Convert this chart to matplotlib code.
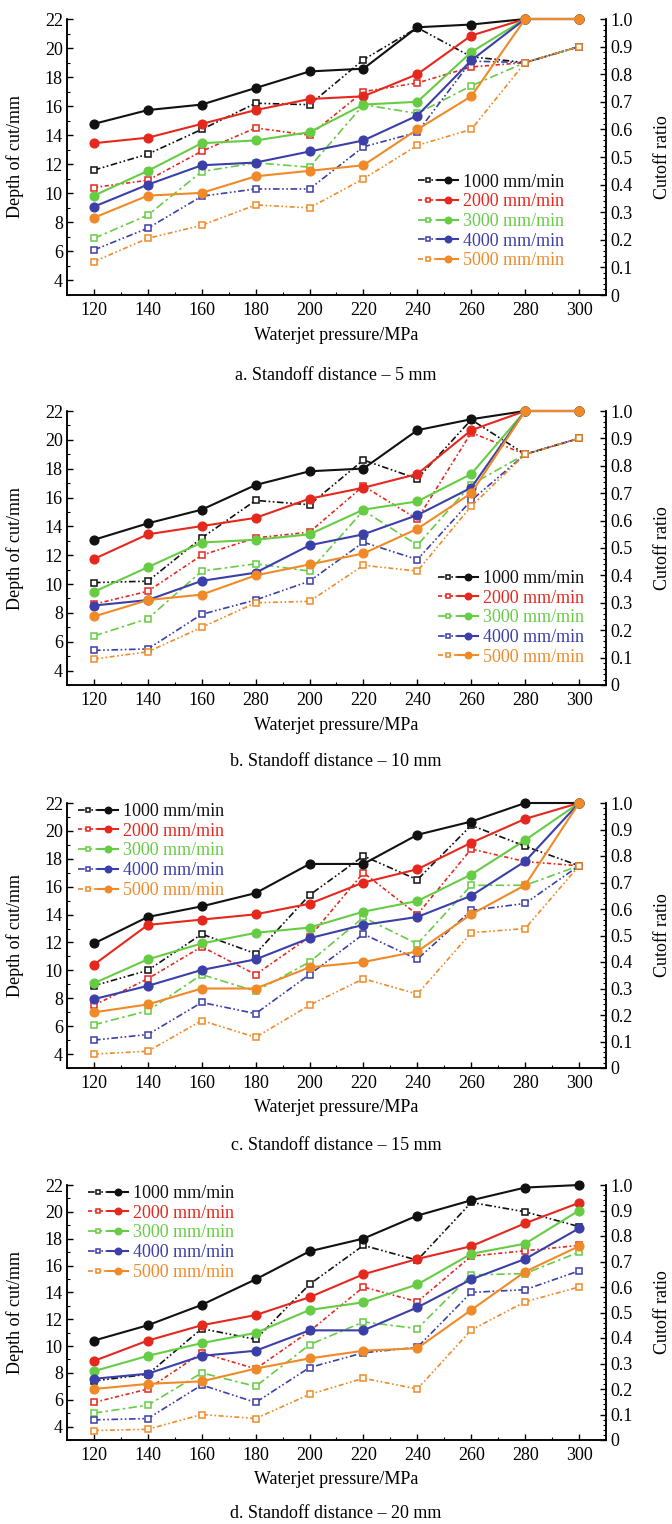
import numpy as np
import matplotlib
matplotlib.use("Agg")
import matplotlib.pyplot as plt
from matplotlib.ticker import MultipleLocator, FixedLocator, FuncFormatter
from matplotlib.legend_handler import HandlerTuple

plt.rcParams['font.family'] = ['Liberation Serif', 'DejaVu Serif']

# Datos
pressure = [120, 140, 160, 180, 200, 220, 240, 260, 280, 300]
feed_labels = ['1000 mm/min', '2000 mm/min', '3000 mm/min', '4000 mm/min', '5000 mm/min']
xtick_labels = ['120', '140', '160', '180', '200', '220', '240', '260', '280', '300']
xtick_labels_b = ['120', '140', '160', '280', '200', '220', '240', '260', '280', '300']
captions = ['a. Standoff distance – 5 mm', 'b. Standoff distance – 10 mm',
            'c. Standoff distance – 15 mm', 'd. Standoff distance – 20 mm']

# cutoff ratio (solid, filled circles, right axis)
ratio_a = [[0.62, 0.67, 0.69, 0.75, 0.81, 0.82, 0.97, 0.98, 1.0, 1.0],
           [0.55, 0.57, 0.62, 0.67, 0.71, 0.72, 0.80, 0.94, 1.0, 1.0],
           [0.36, 0.45, 0.55, 0.56, 0.59, 0.69, 0.70, 0.88, 1.0, 1.0],
           [0.32, 0.40, 0.47, 0.48, 0.52, 0.56, 0.65, 0.85, 1.0, 1.0],
           [0.28, 0.36, 0.37, 0.43, 0.45, 0.47, 0.60, 0.72, 1.0, 1.0]]
ratio_b = [[0.53, 0.59, 0.64, 0.73, 0.78, 0.79, 0.93, 0.97, 1.0, 1.0],
           [0.46, 0.55, 0.58, 0.61, 0.68, 0.72, 0.77, 0.93, 1.0, 1.0],
           [0.34, 0.43, 0.52, 0.53, 0.55, 0.64, 0.67, 0.77, 1.0, 1.0],
           [0.29, 0.31, 0.38, 0.41, 0.51, 0.55, 0.62, 0.72, 1.0, 1.0],
           [0.25, 0.31, 0.33, 0.40, 0.44, 0.48, 0.57, 0.70, 1.0, 1.0]]
ratio_c = [[0.47, 0.57, 0.61, 0.66, 0.77, 0.77, 0.88, 0.93, 1.0, 1.0],
           [0.39, 0.54, 0.56, 0.58, 0.62, 0.70, 0.75, 0.85, 0.94, 1.0],
           [0.32, 0.41, 0.47, 0.51, 0.53, 0.59, 0.63, 0.73, 0.86, 1.0],
           [0.26, 0.31, 0.37, 0.41, 0.49, 0.54, 0.57, 0.65, 0.78, 1.0],
           [0.21, 0.24, 0.30, 0.30, 0.38, 0.40, 0.44, 0.58, 0.69, 1.0]]
ratio_d = [[0.39, 0.45, 0.53, 0.63, 0.74, 0.79, 0.88, 0.94, 0.99, 1.0],
           [0.31, 0.39, 0.45, 0.49, 0.56, 0.65, 0.71, 0.76, 0.85, 0.93],
           [0.27, 0.33, 0.38, 0.42, 0.51, 0.54, 0.61, 0.73, 0.77, 0.90],
           [0.24, 0.26, 0.33, 0.35, 0.43, 0.43, 0.52, 0.63, 0.71, 0.83],
           [0.20, 0.22, 0.23, 0.28, 0.32, 0.35, 0.36, 0.51, 0.66, 0.76]]

# depth of cut (dashed, open squares, left axis)
depth_a = [[11.6, 12.7, 14.4, 16.2, 16.1, 19.2, 21.4, 19.4, 19.0, 20.1],
           [10.4, 10.9, 12.9, 14.5, 14.0, 17.0, 17.6, 18.7, 19.0, 20.1],
           [6.9, 8.5, 11.5, 12.1, 11.8, 16.1, 15.5, 17.4, 19.0, 20.1],
           [6.1, 7.6, 9.8, 10.3, 10.3, 13.2, 14.2, 19.1, 19.0, 20.1],
           [5.3, 6.9, 7.8, 9.2, 9.0, 11.0, 13.3, 14.4, 19.0, 20.1]]
depth_b = [[10.1, 10.2, 13.2, 15.8, 15.5, 18.6, 17.3, 21.4, 19.0, 20.1],
           [8.6, 9.5, 12.0, 13.2, 13.6, 16.8, 14.5, 20.5, 19.0, 20.1],
           [6.4, 7.6, 10.9, 11.4, 10.9, 15.1, 12.7, 16.9, 19.0, 20.1],
           [5.4, 5.5, 7.9, 8.9, 10.2, 12.9, 11.7, 15.8, 19.0, 20.1],
           [4.8, 5.3, 7.0, 8.7, 8.8, 11.3, 10.9, 15.4, 19.0, 20.1]]
depth_c = [[8.9, 10.0, 12.6, 11.2, 15.4, 18.2, 16.5, 20.4, 18.9, 17.5],
           [7.5, 9.4, 11.7, 9.7, 12.4, 17.0, 14.0, 18.7, 17.8, 17.5],
           [6.1, 7.1, 9.7, 8.5, 10.6, 13.8, 11.9, 16.1, 16.1, 17.5],
           [5.0, 5.4, 7.7, 6.9, 9.7, 12.6, 10.8, 14.3, 14.8, 17.5],
           [4.0, 4.2, 6.4, 5.2, 7.5, 9.4, 8.3, 12.7, 13.0, 17.5]]
depth_d = [[7.4, 7.9, 11.3, 10.5, 14.6, 17.5, 16.4, 20.7, 20.0, 18.9],
           [5.8, 6.8, 9.5, 8.3, 11.1, 14.4, 13.3, 16.7, 17.1, 17.5],
           [5.0, 5.6, 8.0, 7.0, 10.1, 11.8, 11.3, 15.3, 15.4, 17.0],
           [4.5, 4.6, 7.1, 5.8, 8.4, 9.5, 9.9, 14.0, 14.2, 15.6],
           [3.7, 3.8, 4.9, 4.6, 6.4, 7.6, 6.8, 11.2, 13.3, 14.4]]

colores = ['#111111', '#e5281e', '#66cc44', '#3b3fa8', '#f08a28']
estilos = [(0, (4, 1.5, 1, 1.5, 1, 1.5)), (0, (2.5, 1.5, 1, 1.5)), (0, (5, 2, 1.5, 2)),
           (0, (4, 1.5, 1, 1.5, 1, 1.5)), (0, (3, 1.5, 1, 1.5, 1, 1.5))]

W, H = 672, 1524
# (top, bottom, caption y) en pixeles
paneles = [(19, 295, 376), (411, 685, 762), (803, 1068, 1146), (1185, 1440, 1514)]
x_izq, x_der = 67, 606
leyendas = [(0.651, 0.44), (0.688, 0.42), (0.02, 1.0), (0.039, 1.0)]
fs = 13

fig = plt.figure(figsize=(W / 100, H / 100), dpi=100)

datos = [(ratio_a, depth_a), (ratio_b, depth_b), (ratio_c, depth_c), (ratio_d, depth_d)]
for k, ((top, bot, ycap), (ratio, depth)) in enumerate(zip(paneles, datos)):
    ax = fig.add_axes([x_izq / W, 1 - bot / H, (x_der - x_izq) / W, (bot - top) / H])
    ax2 = ax.twinx()

    lineas_d, lineas_s = [], []
    for i in range(5):
        ld, = ax.plot(pressure, depth[i], linestyle=estilos[i], color=colores[i], lw=1.2,
                      marker='s', ms=4.8, mfc='white', mec=colores[i], mew=1.1, clip_on=False)
        ls, = ax2.plot(pressure, ratio[i], '-', color=colores[i], lw=1.5,
                       marker='o', ms=6.3, mfc=colores[i], mec=colores[i], clip_on=False)
        lineas_d.append(ld)
        lineas_s.append(ls)

    ax.set_xlim(110, 310)
    ax.set_ylim(3, 22)
    ax2.set_ylim(0, 1.0)
    ax.xaxis.set_major_locator(FixedLocator(pressure))
    ax.set_xticklabels(xtick_labels_b if k == 1 else xtick_labels)
    ax.xaxis.set_minor_locator(FixedLocator(np.arange(130, 300, 20)))
    ax.yaxis.set_major_locator(FixedLocator(np.arange(4, 23, 2)))
    ax.yaxis.set_minor_locator(MultipleLocator(1))
    ax2.yaxis.set_major_locator(MultipleLocator(0.1))
    ax2.yaxis.set_minor_locator(MultipleLocator(0.02))
    ax2.yaxis.set_major_formatter(FuncFormatter(lambda v, p: '0' if abs(v) < 1e-9 else f'{v:.1f}'))

    for a in (ax, ax2):
        a.spines['top'].set_visible(False)
        for s in a.spines.values():
            s.set_linewidth(1.1)
        a.tick_params(which='major', direction='in', length=4.5, width=1.0, labelsize=fs, pad=3)
        a.tick_params(which='minor', direction='in', length=2.5, width=0.8)
    ax.tick_params(axis='x', pad=5)

    ax.set_ylabel('Depth of cut/mm', fontsize=fs)
    ax.yaxis.set_label_coords(-0.080, 0.5)
    ax2.set_ylabel('Cutoff ratio', fontsize=fs)
    ax2.yaxis.set_label_coords(1.089, 0.5)

    fig.text((x_izq + x_der) / 2 / W, 1 - (bot + 40) / H, 'Waterjet pressure/MPa',
             ha='center', va='center', fontsize=fs)
    fig.text(336 / W, 1 - ycap / H, captions[k], ha='center', va='center', fontsize=fs)

    handles = [(lineas_d[i], lineas_s[i]) for i in range(5)]
    leg = ax2.legend(handles, feed_labels, handler_map={tuple: HandlerTuple(ndivide=None, pad=0)},
                     loc='upper left', bbox_to_anchor=leyendas[k], frameon=False,
                     fontsize=fs, handlelength=2.2, handletextpad=0.3, labelspacing=0.15,
                     borderpad=0, borderaxespad=0, markerscale=0.75)
    for t, c in zip(leg.get_texts(), colores):
        t.set_color(c)

fig.savefig('out.png', dpi=100)
